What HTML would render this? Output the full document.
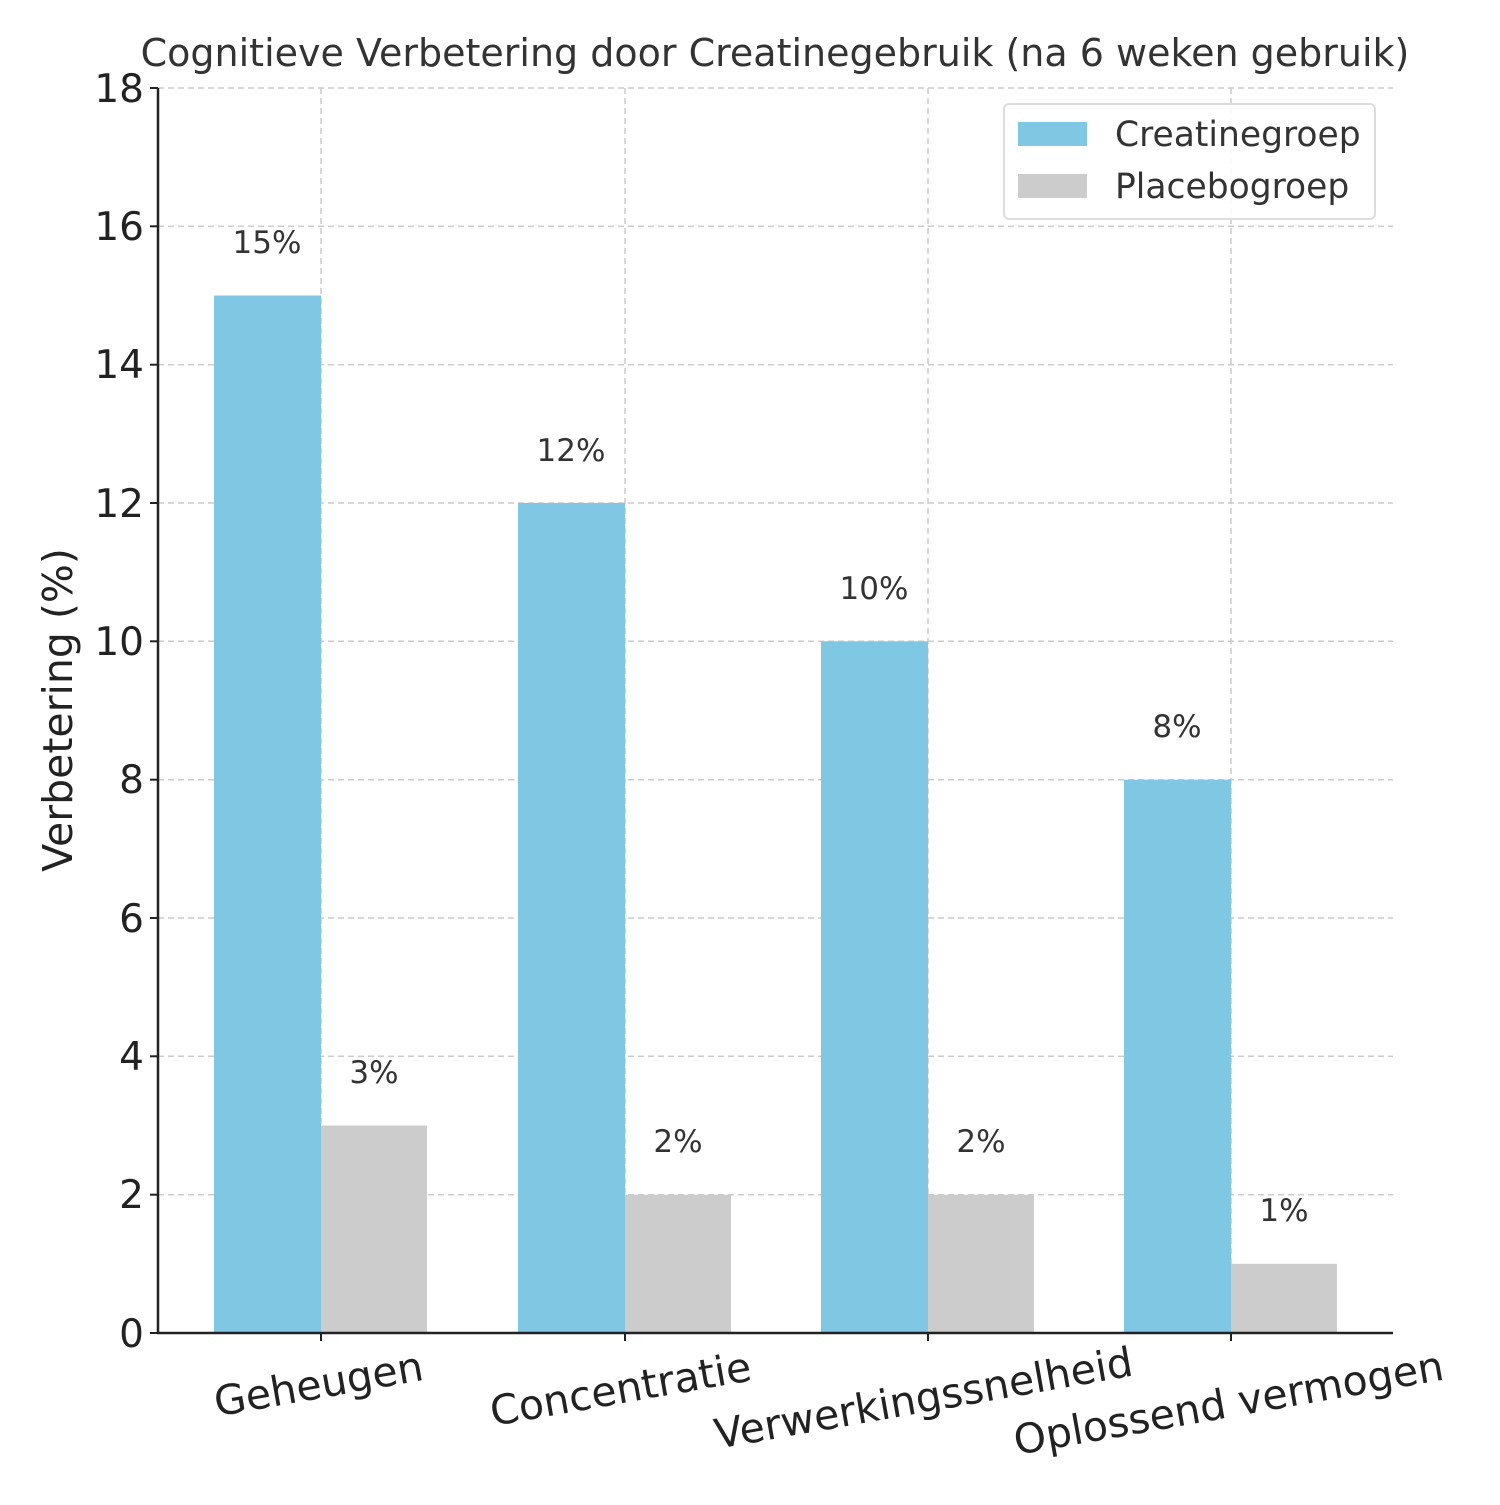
<!DOCTYPE html>
<html><head><meta charset="utf-8"><style>body{margin:0;background:#fff}</style></head><body>
<svg width="1500" height="1500" xmlns="http://www.w3.org/2000/svg" font-family="DejaVu Sans, Liberation Sans, sans-serif">
<rect width="1500" height="1500" fill="#fff"/>
<text x="775" y="66" font-size="38" fill="#333" text-anchor="middle">Cognitieve Verbetering door Creatinegebruik (na 6 weken gebruik)</text>
<g stroke="#ccc" stroke-width="1.5" stroke-dasharray="6,4">
<line x1="158" x2="1393" y1="1194.7" y2="1194.7"/><line x1="158" x2="1393" y1="1056.3" y2="1056.3"/>
<line x1="158" x2="1393" y1="918" y2="918"/><line x1="158" x2="1393" y1="779.7" y2="779.7"/>
<line x1="158" x2="1393" y1="641.3" y2="641.3"/><line x1="158" x2="1393" y1="503" y2="503"/>
<line x1="158" x2="1393" y1="364.7" y2="364.7"/><line x1="158" x2="1393" y1="226.3" y2="226.3"/>
<line x1="158" x2="1393" y1="88" y2="88"/>
<line x1="321" x2="321" y1="88" y2="1333"/><line x1="625" x2="625" y1="88" y2="1333"/>
<line x1="928" x2="928" y1="88" y2="1333"/><line x1="1231" x2="1231" y1="88" y2="1333"/>
</g>
<g fill="#7fc7e3">
<rect x="214" y="295.5" width="107" height="1037.5"/>
<rect x="518" y="503" width="107" height="830"/>
<rect x="821" y="641.3" width="107" height="691.7"/>
<rect x="1124" y="779.7" width="107" height="553.3"/>
</g>
<g fill="#cccccc">
<rect x="321" y="1125.5" width="106" height="207.5"/>
<rect x="625" y="1194.7" width="106" height="138.3"/>
<rect x="928" y="1194.7" width="106" height="138.3"/>
<rect x="1231" y="1263.8" width="106" height="69.2"/>
</g>
<g font-size="31" fill="#333" text-anchor="middle">
<text x="267" y="253">15%</text><text x="571" y="461">12%</text><text x="874" y="599">10%</text><text x="1177" y="737">8%</text>
<text x="374" y="1083">3%</text><text x="678" y="1152">2%</text><text x="981" y="1152">2%</text><text x="1284" y="1221">1%</text>
</g>
<g stroke="#222" stroke-width="2.5" fill="none">
<line x1="158" y1="88" x2="158" y2="1333"/><line x1="157" y1="1333" x2="1393" y2="1333"/>
</g>
<g stroke="#222" stroke-width="2">
<line x1="150" x2="158" y1="1333" y2="1333"/><line x1="150" x2="158" y1="1194.7" y2="1194.7"/><line x1="150" x2="158" y1="1056.3" y2="1056.3"/>
<line x1="150" x2="158" y1="918" y2="918"/><line x1="150" x2="158" y1="779.7" y2="779.7"/><line x1="150" x2="158" y1="641.3" y2="641.3"/>
<line x1="150" x2="158" y1="503" y2="503"/><line x1="150" x2="158" y1="364.7" y2="364.7"/><line x1="150" x2="158" y1="226.3" y2="226.3"/><line x1="150" x2="158" y1="88" y2="88"/>
<line x1="321" x2="321" y1="1333" y2="1341"/><line x1="625" x2="625" y1="1333" y2="1341"/><line x1="928" x2="928" y1="1333" y2="1341"/><line x1="1231" x2="1231" y1="1333" y2="1341"/>
</g>
<g font-size="39" fill="#222" text-anchor="end">
<text x="144" y="1347">0</text><text x="144" y="1208">2</text><text x="144" y="1070">4</text><text x="144" y="932">6</text>
<text x="144" y="793">8</text><text x="144" y="655">10</text><text x="144" y="517">12</text><text x="144" y="378">14</text>
<text x="144" y="240">16</text><text x="144" y="102">18</text>
</g>
<text transform="translate(72,710) rotate(-90)" font-size="41" fill="#222" text-anchor="middle">Verbetering (%)</text>
<g font-size="41" fill="#222" text-anchor="middle">
<text transform="translate(321,1398) rotate(-10)">Geheugen</text>
<text transform="translate(623,1403) rotate(-10)">Concentratie</text>
<text transform="translate(926,1412) rotate(-10)">Verwerkingssnelheid</text>
<text transform="translate(1231,1417) rotate(-10)">Oplossend vermogen</text>
</g>
<rect x="1004" y="104" width="371" height="115" rx="5" fill="#fff" fill-opacity="0.85" stroke="#ddd" stroke-width="2"/>
<rect x="1018" y="122" width="69" height="24" fill="#7fc7e3"/>
<rect x="1018" y="174" width="69" height="24" fill="#cccccc"/>
<text x="1115" y="146" font-size="34.5" fill="#333">Creatinegroep</text>
<text x="1115" y="198" font-size="34.5" fill="#333">Placebogroep</text>
</svg>
</body></html>
